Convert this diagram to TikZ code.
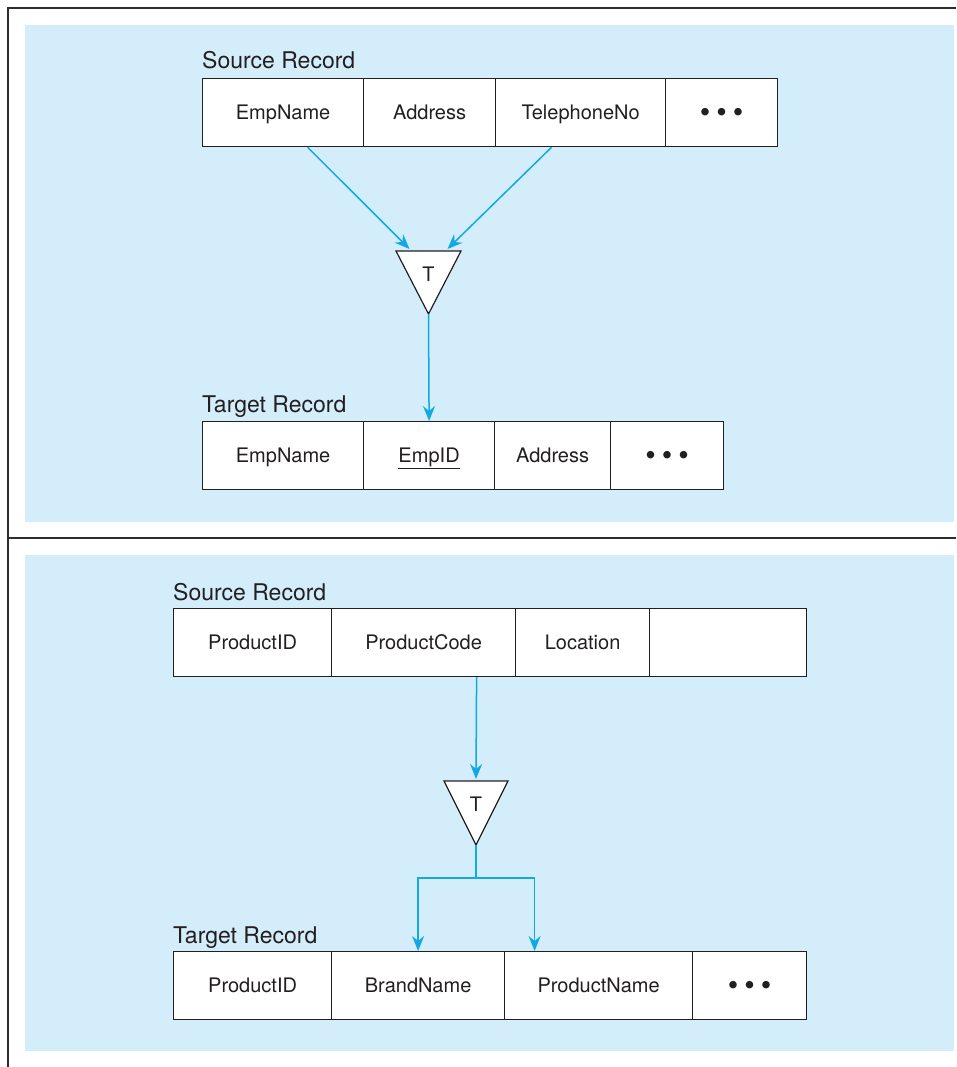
\documentclass[tikz,border=0pt]{standalone}
\usepackage{fontspec}
\setmainfont{TeX Gyre Heros}
\usetikzlibrary{arrows.meta,calc}
\definecolor{panel}{RGB}{211,237,250}
\definecolor{flow}{RGB}{18,168,228}
\definecolor{ink}{RGB}{35,31,32}
\definecolor{framec}{RGB}{45,45,45}
\newcommand{\moredots}{\raisebox{-3pt}{\fontsize{30}{30}\selectfont\textbullet\kern6pt\textbullet\kern6pt\textbullet}}
\begin{document}
\begin{tikzpicture}[x=1pt,y=-1pt,
  cell/.style={draw=ink, line width=1.2pt, fill=white, minimum height=68pt,
    inner sep=0pt, text=ink, font=\fontsize{20}{24}\selectfont,
    text height=16pt, text depth=2pt, anchor=north west},
  reclabel/.style={anchor=base west, inner sep=0pt, text=ink,
    font=\fontsize{23}{27}\selectfont},
  tlabel/.style={inner sep=0pt, text=ink, font=\fontsize{20}{24}\selectfont},
  trishape/.style={draw=ink, line width=1.2pt, fill=white, line join=miter},
  arr/.style={draw=flow, line width=1.5pt,
    -{Stealth[length=15pt,width=12pt,inset=5pt]}},
  frameline/.style={draw=framec, line width=2.6pt}]
\useasboundingbox (0,0) rectangle (956,1067);
% frame
\draw[frameline] (956,8) -- (8,8) -- (8,1067);
\draw[frameline] (8,538) -- (956,538);
% panels
\fill[panel] (25,25) rectangle (954,522);
\fill[panel] (25,555) rectangle (954,1051);

% ---------- top panel ----------
\node[reclabel] (src1) at (202,69) {Source Record};
\node[cell, minimum width=161pt] (s1a) at (202,78) {EmpName};
\node[cell, minimum width=132pt] (s1b) at (363,78) {Address};
\node[cell, minimum width=170pt] (s1c) at (495,78) {TelephoneNo};
\node[cell, minimum width=112pt] (s1d) at (665,78) {\moredots};

\draw[trishape] (396,251) -- (461,251) -- (428.5,314) -- cycle;
\coordinate (tri1in1) at (409.5,249);
\coordinate (tri1in2) at (447.5,249);
\coordinate (tri1out) at (428.5,314);
\node[tlabel] (T1) at (428.5,274) {T};

\node[reclabel] (tgt1) at (202,412) {Target Record};
\node[cell, minimum width=161pt] (t1a) at (202,421) {EmpName};
\node[cell, minimum width=131pt] (t1b) at (363,421) {\underline{EmpID}};
\node[cell, minimum width=116pt] (t1c) at (494,421) {Address};
\node[cell, minimum width=113pt] (t1d) at (610,421) {\moredots};

\draw[arr] ([xshift=24.5pt]s1a.south) -- (tri1in1);
\draw[arr] ([xshift=-29pt]s1c.south) -- (tri1in2);
\draw[arr] (tri1out) -- (t1b.north);

% ---------- bottom panel ----------
\node[reclabel] (src2) at (173,600) {Source Record};
\node[cell, minimum width=158pt] (s2a) at (173,608) {ProductID};
\node[cell, minimum width=184pt] (s2b) at (331,608) {ProductCode};
\node[cell, minimum width=134pt] (s2c) at (515,608) {Location};
\node[cell, minimum width=157pt] (s2d) at (649,608) {};

\draw[trishape] (444,781) -- (508,781) -- (476,845) -- cycle;
\coordinate (tri2in) at (476,779);
\coordinate (tri2out) at (476,845);
\coordinate (split) at (476,878);
\node[tlabel] (T2) at (476,804) {T};

\node[reclabel] (tgt2) at (173,943) {Target Record};
\node[cell, minimum width=158pt] (t2a) at (173,951) {ProductID};
\node[cell, minimum width=173pt] (t2b) at (331,951) {BrandName};
\node[cell, minimum width=188pt] (t2c) at (504,951) {ProductName};
\node[cell, minimum width=114pt] (t2d) at (692,951) {\moredots};

\draw[arr] ([xshift=53pt]s2b.south) -- (tri2in);
\draw[arr] (tri2out) -- (split) -| (t2b.north);
\draw[arr] (split) -| ([xshift=-64pt]t2c.north);
\end{tikzpicture}
\end{document}
